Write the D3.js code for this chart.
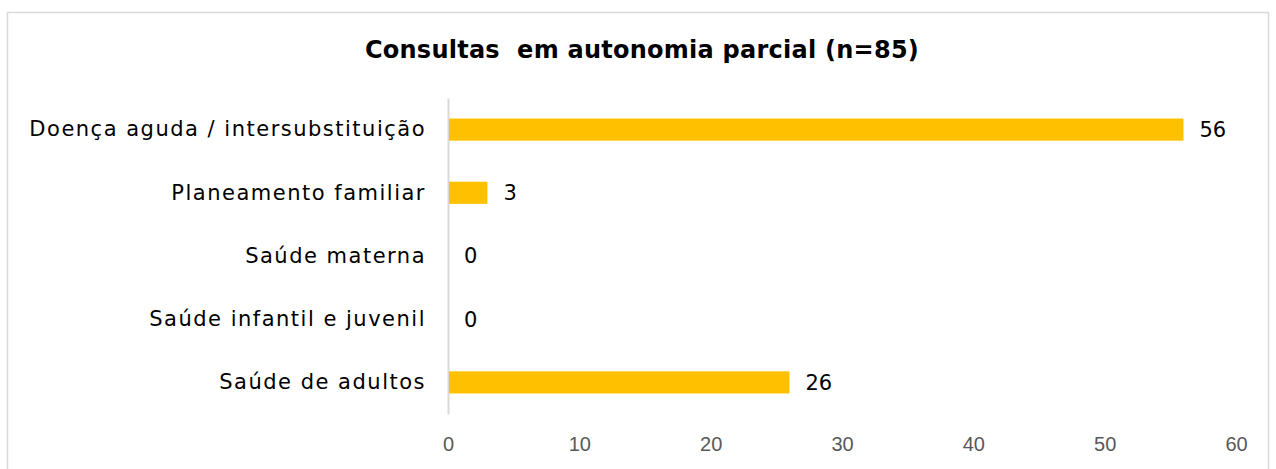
<!DOCTYPE html>
<html>
<head>
<meta charset="utf-8">
<script src="https://cdn.jsdelivr.net/npm/d3@7"></script>
<style>
  html, body { margin: 0; padding: 0; background: #fff; }
  svg { display: block; }
</style>
</head>
<body>
<svg id="chart" width="1276" height="469"></svg>
<script>
const categories = [
  "Doença aguda / intersubstituição",
  "Planeamento familiar",
  "Saúde materna",
  "Saúde infantil e juvenil",
  "Saúde de adultos"
];
const values = [56, 3, 0, 0, 26];
const xTicks = [0, 10, 20, 30, 40, 50, 60];
const title = "Consultas  em autonomia parcial (n=85)";

const svg = d3.select("#chart");
const margin = { top: 98, right: 40, bottom: 56, left: 448 };
const plotW = 1236 - margin.left;
const plotH = 414 - margin.top;
const labelFont = "'DejaVu Sans', 'Open Sans', sans-serif";

// chart frame
svg.append("rect")
    .attr("x", 7.5).attr("y", 12.5)
    .attr("width", 1261).attr("height", 470)
    .attr("fill", "#fff")
    .attr("stroke", "#d9d9d9")
    .attr("stroke-width", 1.5);

svg.append("text")
    .attr("x", 642).attr("y", 58)
    .attr("text-anchor", "middle")
    .style("font-family", labelFont)
    .style("font-weight", "bold")
    .style("font-size", "24px")
    .style("letter-spacing", "0.25px")
    .attr("xml:space", "preserve")
    .text(title);

const g = svg.append("g").attr("transform", `translate(${margin.left},${margin.top})`);

const x = d3.scaleLinear().domain([0, 60]).range([0, plotW]);
const y = d3.scaleBand().domain(categories).range([0, plotH]).paddingInner(0.65).paddingOuter(0.325);

// x axis (labels only)
const xAxis = g.append("g")
    .attr("transform", `translate(0,${plotH})`)
    .call(d3.axisBottom(x).tickValues(xTicks).tickSize(0).tickPadding(23));
xAxis.select(".domain").remove();
xAxis.selectAll("text")
    .style("font-family", "'Liberation Sans', Arial, sans-serif")
    .style("font-size", "20px")
    .attr("fill", "#595959");

// y axis
const yAxis = g.append("g")
    .call(d3.axisLeft(y).tickSize(0).tickPadding(22));
yAxis.select(".domain").attr("stroke", "#d9d9d9").attr("stroke-width", 2);
yAxis.selectAll("text")
    .style("font-family", labelFont)
    .style("font-size", "21px")
    .style("letter-spacing", "1.5px")
    .attr("fill", "#000");

// bars
g.selectAll(".bar").data(values).enter().append("rect")
    .attr("class", "bar")
    .attr("x", x(0) + 1)
    .attr("y", (d, i) => y(categories[i]))
    .attr("width", d => Math.max(0, x(d) - x(0) - 1))
    .attr("height", y.bandwidth())
    .attr("fill", "#ffc000");

// value labels
g.selectAll(".val").data(values).enter().append("text")
    .attr("class", "val")
    .attr("x", d => x(d) + 16)
    .attr("y", (d, i) => y(categories[i]) + y.bandwidth() / 2)
    .attr("dy", "0.35em")
    .style("font-family", labelFont)
    .style("font-size", "21px")
    .attr("fill", "#000")
    .text(d => d);
</script>
</body>
</html>
